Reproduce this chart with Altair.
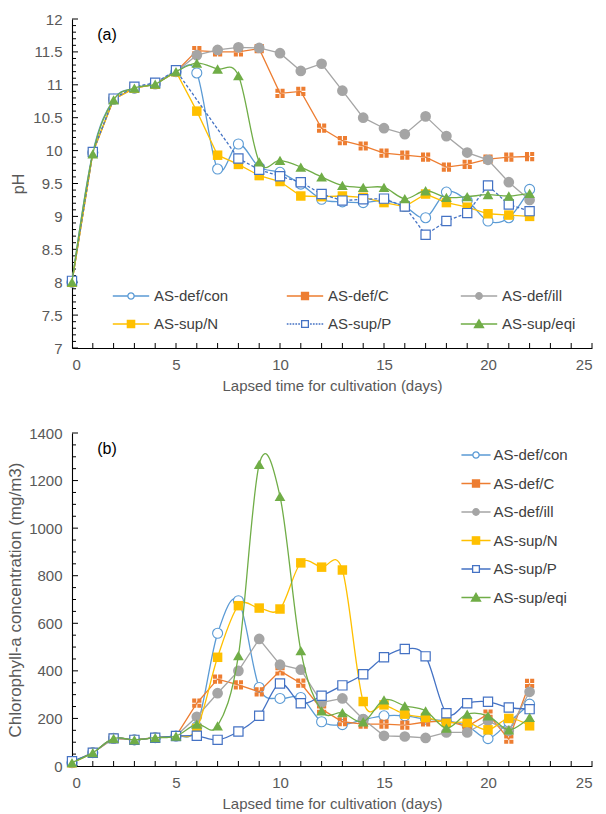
import altair as alt
import pandas as pd

# ---------------- data ----------------
SERIES = ["AS-def/con", "AS-def/C", "AS-def/ill", "AS-sup/N", "AS-sup/P", "AS-sup/eqi"]
COLORS = ["#5B9BD5", "#ED7D31", "#A5A5A5", "#FFC000", "#4472C4", "#70AD47"]

DAYS = list(range(23))

# (a) pH
PH_CON = [8.0, 9.97, 10.78, 10.95, 11.02, 11.2, 11.18, 9.72, 10.1, 9.75, 9.67, 9.49, 9.26, 9.22, 9.21, 9.24, 9.15, 8.98, 9.37, 9.24, 8.93, 8.98, 9.41]
PH_C = [8.0, 9.97, 10.78, 10.95, 11.01, 11.2, 11.52, 11.5, 11.5, 11.55, 10.87, 10.9, 10.34, 10.15, 10.07, 9.96, 9.93, 9.9, 9.75, 9.79, 9.87, 9.9, 9.91]
PH_ILL = [8.0, 9.97, 10.78, 10.95, 11.01, 11.2, 11.45, 11.53, 11.57, 11.56, 11.48, 11.21, 11.32, 10.91, 10.5, 10.34, 10.25, 10.52, 10.22, 9.97, 9.86, 9.52, 9.25]
PH_N = [8.0, 9.97, 10.78, 10.95, 11.01, 11.2, 10.6, 9.93, 9.79, 9.62, 9.53, 9.31, 9.3, 9.31, 9.29, 9.21, 9.15, 9.34, 9.21, 9.14, 9.04, 9.02, 9.0]
PH_P_DAYS = [0, 1, 2, 3, 4, 5, 8, 9, 10, 11, 12, 13, 14, 15, 16, 17, 18, 19, 20, 21, 22]
PH_P = [8.02, 9.98, 10.79, 10.97, 11.03, 11.22, 9.88, 9.71, 9.61, 9.52, 9.34, 9.24, 9.26, 9.27, 9.15, 8.72, 8.93, 9.05, 9.47, 9.18, 9.08]
PH_EQI = [8.0, 9.95, 10.77, 10.95, 11.01, 11.2, 11.33, 11.24, 11.14, 9.83, 9.85, 9.75, 9.6, 9.47, 9.44, 9.44, 9.27, 9.39, 9.29, 9.3, 9.33, 9.31, 9.35]

# (b) Chlorophyll-a (mg/m3)
CHL_CON = [14, 56, 116, 110, 119, 126, 165, 558, 695, 330, 284, 288, 186, 174, 195, 211, 211, 197, 190, 169, 115, 185, 260]
CHL_C = [14, 56, 116, 110, 119, 126, 264, 365, 341, 312, 400, 348, 239, 186, 176, 176, 172, 185, 190, 166, 218, 113, 347]
CHL_ILL = [14, 56, 116, 110, 119, 126, 207, 306, 400, 534, 426, 405, 267, 284, 197, 127, 124, 118, 141, 141, 190, 148, 312]
CHL_N = [14, 56, 116, 110, 119, 126, 158, 457, 674, 664, 660, 854, 836, 824, 271, 257, 218, 204, 183, 183, 152, 200, 169]
CHL_P = [20, 56, 116, 110, 119, 126, 127, 110, 145, 211, 347, 264, 295, 339, 386, 457, 492, 461, 222, 264, 270, 246, 239]
CHL_EQI = [14, 56, 116, 110, 119, 126, 176, 169, 464, 1268, 1134, 485, 232, 224, 186, 278, 253, 232, 159, 218, 211, 152, 204]

X_MAJOR = [0, 5, 10, 15, 20, 25]
X_TICKS = list(range(1, 26))
PH_MAJOR = [7, 7.5, 8, 8.5, 9, 9.5, 10, 10.5, 11, 11.5, 12]
PH_MINOR = [round(7 + i * 0.1, 1) for i in range(51)]
CHL_MAJOR = [0, 200, 400, 600, 800, 1000, 1200, 1400]
CHL_MINOR = [i * 50 for i in range(29)]

# ---------------- styles ----------------
FONT = "Liberation Sans"
LC = "#595959"
W = 520
HA = 329
HB = 333

CROSS_SQ = ("M-1,-1H-0.12V-0.12H-1Z M0.12,-1H1V-0.12H0.12Z "
            "M-1,0.12H-0.12V1H-1Z M0.12,0.12H1V1H0.12Z")

# marker: shape, size, fill, strokeWidth
MARK = {
    "AS-def/con": ("circle", 100, "white", 1.1),
    "AS-def/C": (CROSS_SQ, 85, None, 0),
    "AS-def/ill": ("circle", 115, None, 0),
    "AS-sup/N": ("square", 90, None, 0),
    "AS-sup/P": ("square", 85, "white", 1.2),
    "AS-sup/eqi": ("triangle-up", 115, None, 0),
}


def circ(r):
    return (f"M-{r},0A{r},{r},0,1,0,{r},0A{r},{r},0,1,0,-{r},0Z")


def sq(h):
    return f"M-{h},-{h}H{h}V{h}H-{h}Z"


def cross(h, g):
    return (f"M-{h},-{h}H-{g}V-{g}H-{h}Z M{g},-{h}H{h}V-{g}H{g}Z "
            f"M-{h},{g}H-{g}V{h}H-{h}Z M{g},{g}H{h}V{h}H{g}Z")


def tri(h):
    return f"M0,-{h}L{h * 1.1:.2f},{h * 0.85:.2f}H-{h * 1.1:.2f}Z"


def lines(L, a, dashed=False):
    if not dashed:
        return f"M-{L},0H-{a}M{a},0H{L}"
    segs = []
    x = L
    while x - a > 0.05:
        e = max(x - 0.13, a)
        segs.append(f"M-{x:.2f},0H-{e:.2f}M{e:.2f},0H{x:.2f}")
        x = x - 0.22
    return "".join(segs)


def legend_paths(L, dashedP):
    return [
        lines(L, 0.24) + circ(0.24),
        lines(L, 0.27) + cross(0.27, 0.03),
        lines(L, 0.25) + circ(0.25),
        lines(L, 0.28) + sq(0.28),
        lines(L, 0.26, dashedP) + sq(0.26),
        lines(L, 0.17) + tri(0.32),
    ]


FILLS = ["white", COLORS[1], COLORS[2], COLORS[3], "white", COLORS[5]]

AX = dict(ticks=False, tickSize=0, grid=False, domainColor="#000000", domainWidth=1.1,
          labelFont=FONT, labelFontSize=15, labelColor=LC, titleFont=FONT,
          titleColor=LC, titleFontWeight="normal")


def x_enc():
    return alt.X("day:Q", scale=alt.Scale(domain=[0, 25], nice=False, zero=False),
                 axis=alt.Axis(values=X_MAJOR, format="d",
                               title="Lapsed time for cultivation (days)",
                               labelPadding=9, titlePadding=6, titleFontSize=15, **AX))


def y_enc(dom, vals, title, tpad, tsize, fmt):
    return alt.Y("value:Q", scale=alt.Scale(domain=dom, nice=False, zero=False),
                 axis=alt.Axis(values=vals, title=title, labelPadding=10, format=fmt,
                               titlePadding=tpad, titleFontSize=tsize, **AX))


def panel(series_data, interps, dashP, dom, major, minor, ytitle, tpad, tsize, fmt, H,
          leg, tag):
    ye = lambda: y_enc(dom, major, ytitle, tpad, tsize, fmt)
    layers = []
    # tick marks (inside)
    minor_only = [v for v in minor if v not in major]
    layers.append(alt.Chart(pd.DataFrame({"value": minor_only})).mark_rule(
        color="black", strokeWidth=1).encode(y=ye(), x=alt.value(0), x2=alt.value(4)))
    layers.append(alt.Chart(pd.DataFrame({"value": major})).mark_rule(
        color="black", strokeWidth=1).encode(y=ye(), x=alt.value(0), x2=alt.value(6)))
    layers.append(alt.Chart(pd.DataFrame({"day": X_TICKS})).mark_rule(
        color="black", strokeWidth=1).encode(x=x_enc(), y=alt.value(H), y2=alt.value(H - 5)))

    for i, name in enumerate(SERIES):
        days, vals = series_data[name]
        df = pd.DataFrame({"day": days, "value": vals})
        lkw = dict(color=COLORS[i], strokeWidth=1.3, interpolate=interps[name])
        if name == "AS-sup/P" and dashP:
            lkw["strokeDash"] = [3, 2]
        layers.append(alt.Chart(df).mark_line(**lkw).encode(x=x_enc(), y=ye()))
        shape, size, fill, sw = MARK[name]
        layers.append(alt.Chart(df).mark_point(
            shape=shape, size=size, filled=True, opacity=1,
            fill=fill if fill else COLORS[i], stroke=COLORS[i], strokeWidth=sw
        ).encode(x=x_enc(), y=ye()))

    # legend layer
    legdf = pd.DataFrame({"series": SERIES})
    paths = legend_paths(leg.pop("L"), dashP)
    lg = alt.Legend(title=None, orient="none", padding=0, symbolSize=676,
                    symbolStrokeWidth=1.3, symbolOpacity=1, labelFont=FONT,
                    labelFontSize=15, labelColor="#404040", labelLimit=200, **leg)
    layers.append(alt.Chart(legdf).mark_point(opacity=0, strokeWidth=1.3).encode(
        x=alt.value(0), y=alt.value(0),
        shape=alt.Shape("series:N", scale=alt.Scale(domain=SERIES, range=paths), legend=lg),
        stroke=alt.Stroke("series:N", scale=alt.Scale(domain=SERIES, range=COLORS), legend=lg),
        fill=alt.Fill("series:N", scale=alt.Scale(domain=SERIES, range=FILLS), legend=lg),
    ))
    # panel tag
    layers.append(alt.Chart(pd.DataFrame({"t": [tag]})).mark_text(
        font=FONT, fontSize=16, color="#000000", align="center", baseline="middle"
    ).encode(text="t:N", x=alt.value(35), y=alt.value(16)))
    return alt.layer(*layers).properties(width=W, height=H)


ph_data = {
    "AS-def/con": (DAYS, PH_CON),
    "AS-def/C": (DAYS, PH_C),
    "AS-def/ill": (DAYS, PH_ILL),
    "AS-sup/N": (DAYS, PH_N),
    "AS-sup/P": (PH_P_DAYS, PH_P),
    "AS-sup/eqi": (DAYS, PH_EQI),
}
chl_data = {
    "AS-def/con": (DAYS, CHL_CON),
    "AS-def/C": (DAYS, CHL_C),
    "AS-def/ill": (DAYS, CHL_ILL),
    "AS-sup/N": (DAYS, CHL_N),
    "AS-sup/P": (DAYS, CHL_P),
    "AS-sup/eqi": (DAYS, CHL_EQI),
}
interp_a = {"AS-def/con": "cardinal", "AS-def/C": "linear", "AS-def/ill": "linear",
            "AS-sup/N": "linear", "AS-sup/P": "linear", "AS-sup/eqi": "cardinal"}
interp_b = {"AS-def/con": "cardinal", "AS-def/C": "linear", "AS-def/ill": "linear",
            "AS-sup/N": "cardinal", "AS-sup/P": "cardinal", "AS-sup/eqi": "cardinal"}

top = panel(ph_data, interp_a, True, [7, 12], PH_MAJOR, PH_MINOR, "pH", 6, 16, "~g", HA,
            dict(L=1.4, columns=3, direction="horizontal", columnPadding=55,
                 rowPadding=6, gridAlign="all", labelOffset=9, legendX=45, legendY=263),
            "(a)")
bottom = panel(chl_data, interp_b, False, [0, 1400], CHL_MAJOR, CHL_MINOR,
               "Chlorophyll-a concentration (mg/m3)", 4, 17, "d", HB,
               dict(L=1.12, columns=1, direction="vertical", rowPadding=6.5,
                    labelOffset=3.5, legendX=390, legendY=8), "(b)")

chart = alt.vconcat(top, bottom, spacing=85, bounds="flush").resolve_scale(
    shape="independent", stroke="independent", fill="independent"
).resolve_legend(
    shape="independent", stroke="independent", fill="independent"
).properties(
    padding={"left": 6, "top": 12, "right": 5, "bottom": 2}
).configure_view(strokeWidth=0)

chart.save("out.html", embed_options={"renderer": "svg", "actions": False})
